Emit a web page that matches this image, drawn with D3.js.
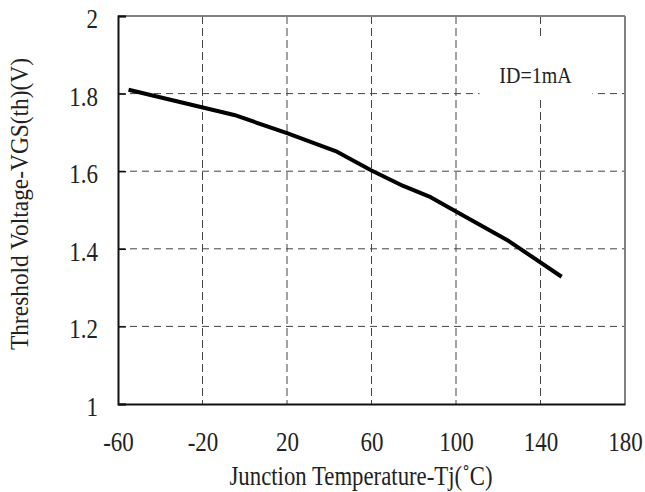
<!DOCTYPE html>
<html>
<head>
<meta charset="utf-8">
<script src="https://cdn.jsdelivr.net/npm/d3@7"></script>
<style>
  body { margin: 0; background: #fff; }
  text { font-family: "Liberation Serif", "Times New Roman", serif; fill: #222; }
</style>
</head>
<body>
<svg id="ch" width="645" height="492"></svg>
<script>
// values
var tempC = [-55, -5, 20, 43, 60, 75, 88, 100, 125, 150];
var vgsTh = [1.81, 1.745, 1.698, 1.652, 1.602, 1.562, 1.533, 1.496, 1.42, 1.328];
var xTicks = [-60, -20, 20, 60, 100, 140, 180];
var yTicks = [1, 1.2, 1.4, 1.6, 1.8, 2];
var noteText = "ID=1mA";

var margin = {top: 16, right: 20, bottom: 88, left: 118},
    width  = 645 - margin.left - margin.right,
    height = 492 - margin.top  - margin.bottom;

var svg = d3.select("#ch");
var g = svg.append("g").attr("transform", "translate(" + margin.left + "," + margin.top + ")");

var x = d3.scaleLinear().domain([-60, 180]).range([0, width]);
var y = d3.scaleLinear().domain([1, 2]).range([height, 0]);

// grid
g.append("g").selectAll("line")
    .data(xTicks.slice(1, -1))
    .enter().append("line")
    .attr("x1", function (d) { return x(d); })
    .attr("x2", function (d) { return x(d); })
    .attr("y1", 0).attr("y2", height)
    .style("stroke", "#444").style("stroke-width", 1)
    .style("stroke-dasharray", "8,4");

g.append("g").selectAll("line")
    .data(yTicks.slice(1, -1))
    .enter().append("line")
    .attr("x1", 0).attr("x2", width)
    .attr("y1", function (d) { return y(d); })
    .attr("y2", function (d) { return y(d); })
    .style("stroke", "#444").style("stroke-width", 1)
    .style("stroke-dasharray", "7,5");

// note box
var nx = x(140) - 61, ny = 21;
g.append("rect").attr("x", nx).attr("y", ny).attr("width", 113).attr("height", 63)
    .style("fill", "#fff");
g.append("text")
    .attr("transform", "translate(" + (nx + 56) + "," + (ny + 46) + ") scale(1,1.2)")
    .attr("text-anchor", "middle")
    .style("font-size", "20px")
    .text(noteText);

// frame: top and right grey
g.append("line").attr("x1", 0).attr("x2", width).attr("y1", 0).attr("y2", 0)
    .style("stroke", "#808080").style("stroke-width", 2);
g.append("line").attr("x1", width).attr("x2", width).attr("y1", 0).attr("y2", height)
    .style("stroke", "#808080").style("stroke-width", 2);

// axes
var sy = 1.18;
var yAxis = g.append("g").call(d3.axisLeft(y).tickValues(yTicks).tickSize(-8).tickFormat(String));
var xAxis = g.append("g").attr("transform", "translate(0," + height + ")")
    .call(d3.axisBottom(x).tickValues(xTicks).tickSize(0).tickFormat(String));

[xAxis, yAxis].forEach(function (a) {
    a.select(".domain").style("stroke", "#111").style("stroke-width", 2);
    a.selectAll(".tick line").style("stroke", "#111").style("stroke-width", 1.5);
    a.selectAll(".tick text")
        .style("font-size", "23px").style("font-family", "Liberation Serif")
        .style("fill", "#222")
        .attr("dy", 0)
        .attr("transform", "scale(1," + sy + ")");
});
yAxis.selectAll(".tick text").attr("x", -20).attr("y", 11.5 / sy);
xAxis.selectAll(".tick text").attr("y", 47 / sy);

// curve
var line = d3.line()
    .x(function (d, i) { return x(tempC[i]); })
    .y(function (d) { return y(d); });

g.append("path")
    .datum(vgsTh)
    .attr("d", line)
    .style("fill", "none")
    .style("stroke", "#000")
    .style("stroke-width", "4px")
    .style("stroke-linejoin", "round");

// axis titles
svg.append("text")
    .attr("transform", "translate(361,485) scale(1,1.25)")
    .attr("text-anchor", "middle")
    .attr("textLength", 263)
    .attr("lengthAdjust", "spacingAndGlyphs")
    .style("font-size", "21px")
    .text("Junction Temperature-Tj(\u02daC)");

svg.append("text")
    .attr("transform", "translate(28,204) rotate(-90) scale(1,1.28)")
    .attr("text-anchor", "middle")
    .attr("textLength", 292)
    .attr("lengthAdjust", "spacingAndGlyphs")
    .style("font-size", "20px")
    .text("Threshold Voltage-VGS(th)(V)");
</script>
</body>
</html>
